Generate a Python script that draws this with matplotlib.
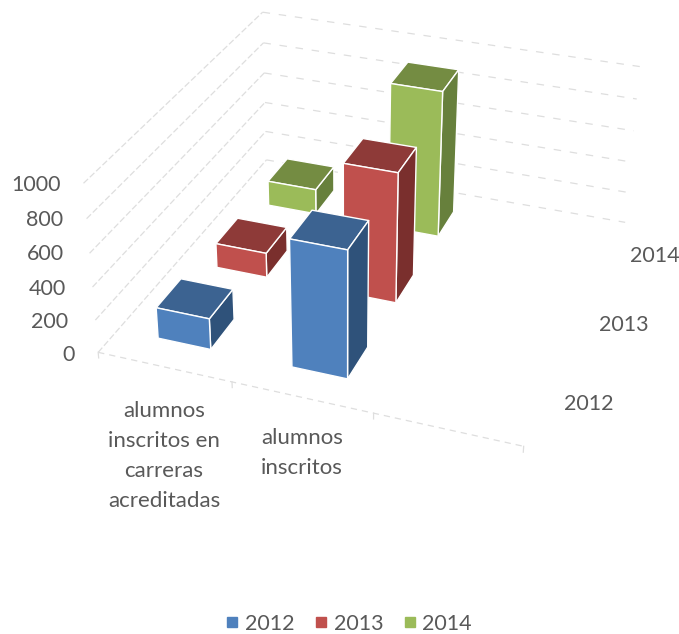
import numpy as np
import matplotlib
matplotlib.use('Agg')
import matplotlib.pyplot as plt
from matplotlib.lines import Line2D

# datos
categorias = ['alumnos\ninscritos en\ncarreras\nacreditadas', 'alumnos\ninscritos', '']
series = ['2012', '2013', '2014']
valores_2012 = [190, 760, 0]
valores_2013 = [155, 800, 0]
valores_2014 = [163, 925, 0]
valores = [valores_2012, valores_2013, valores_2014]
ticks_z = [0, 200, 400, 600, 800, 1000]

colores = {
    '2012': ('#4F81BD', '#3C6391', '#2F527A'),
    '2013': ('#C0504D', '#8E3A38', '#7A2F2D'),
    '2014': ('#9BBB59', '#748C42', '#67803C'),
}
ANCHO_BARRA = 0.4
GRIS = '#DEDEDE'
TEXTO = '#595959'

W, H = 679, 634
plt.rcParams['font.family'] = ['Lato', 'DejaVu Sans']

fig = plt.figure(figsize=(W / 100, H / 100), dpi=100)
ax = fig.add_axes([0, 0, 1, 1], projection='3d', computed_zorder=False)
ax.set_axis_off()
ax.set_xlim(0, 3)
ax.set_ylim(0, 3)
ax.set_zlim(0, 1000)
# ortho: sin esto mplot3d recorta las lineas segun la profundidad
ax.set_proj_type('ortho')

# puntos de calibracion de la camara: esquina del grafico -> pixel de la imagen
esquinas = [
    (0, 0, 0, 98, 353), (1, 0, 0, 232, 382), (2, 0, 0, 373, 412), (3, 0, 0, 524, 447),
    (0, 3, 0, 267, 160), (3, 3, 0, 625, 222),
    (0, 3, 1000, 262, 12), (3, 3, 1000, 640, 67), (0, 0, 1000, 84, 183),
]


def proyeccion():
    # Excel usa su propia perspectiva, asi que se ajusta la matriz a las esquinas
    pix = np.array([[e[3], H - e[4]] for e in esquinas], dtype=float)
    uv = ax.transData.inverted().transform(pix)
    A, b = [], []
    for (X, Y, Z, *_), (u, v) in zip(esquinas, uv):
        Z = Z / 1000
        A.append([X, Y, Z, 1, 0, 0, 0, 0, -u * X, -u * Y, -u * Z])
        A.append([0, 0, 0, 0, X, Y, Z, 1, -v * X, -v * Y, -v * Z])
        b += [u, v]
    p = np.linalg.lstsq(np.array(A), np.array(b), rcond=None)[0]
    P = np.append(p, 1.0).reshape(3, 4)
    P[:, 2] /= 1000
    return np.array([P[0], P[1], [0, 1, 0, 0], P[2]])


ax.get_proj = proyeccion

# paredes y suelo
for z in ticks_z:
    ax.plot([0, 0], [0, 3], [z, z], color=GRIS, lw=0.9, ls=(0, (5, 2)), zorder=1)
    ax.plot([0, 3], [3, 3], [z, z], color=GRIS, lw=0.9, ls=(0, (6, 7)), zorder=1)
ax.plot([0, 3], [0, 0], [0, 0], color=GRIS, lw=0.9, ls=(0, (5, 4)), zorder=1)
for x in range(4):
    ax.plot([x, x], [0, 0], [0, -35], color=GRIS, lw=0.9, zorder=1)

# barras, de atras hacia delante
NADA = '#00000000'
orden = 2
for j in reversed(range(len(series))):
    frente, arriba, lado = colores[series[j]]
    for i in range(len(categorias)):
        if valores[j][i] == 0:
            continue
        # caras: -Z +Z -Y +Y -X +X
        caras = [NADA, arriba, frente, NADA, NADA, lado]
        bordes = [NADA, 'white', 'white', NADA, NADA, 'white']
        ax.bar3d([i + 0.51 - ANCHO_BARRA / 2], [j + 0.5 - ANCHO_BARRA / 2], [0],
                 ANCHO_BARRA, ANCHO_BARRA, valores[j][i],
                 color=caras, edgecolor=bordes, linewidth=1, shade=False, zorder=orden)
        orden += 1


def texto(x, y, s, ha='center', size=15.5):
    fig.text(x / W, 1 - y / H, s, ha=ha, va='center', color=TEXTO, fontsize=size,
             linespacing=1.62)


# etiquetas del eje vertical
for z, x, y in zip(ticks_z, [75, 68, 66, 64, 63, 61], [355, 322, 289, 254, 220, 185]):
    texto(x, y, str(z), ha='right')

# etiquetas de series
for s, x, y in zip(series, [589, 624, 655], [404, 325, 256]):
    texto(x, y, s)

# etiquetas de categorias
texto(164, 456, categorias[0], size=16)
texto(302, 453, categorias[1], size=16)

# leyenda
marcas = [Line2D([], [], ls='none', marker='s', ms=6.5, color=colores[s][0]) for s in series]
fig.legend(marcas, series, loc='center', bbox_to_anchor=(350 / W, 1 - 624 / H), ncol=3,
           frameon=False, fontsize=15.5, labelcolor=TEXTO, handlelength=0.4,
           handletextpad=0.39, columnspacing=1.02)

fig.savefig('out.png', dpi=100)
